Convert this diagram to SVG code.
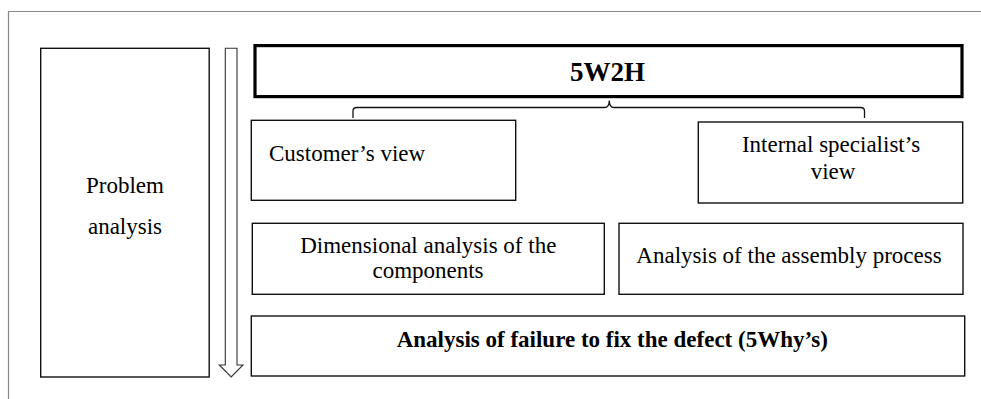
<svg xmlns="http://www.w3.org/2000/svg" width="981" height="399" viewBox="0 0 981 399">
<style>
.box{fill:#fff;stroke:#111;stroke-width:1.4}
.thick{fill:#fff;stroke:#000;stroke-width:3.2}
.t{font-family:"Liberation Serif","Times New Roman",serif;font-size:23px;fill:#000}
.c{text-anchor:middle}
.b{font-weight:bold}
.frame{fill:none;stroke:#888;stroke-width:1.2}
.conn{fill:none;stroke:#111;stroke-width:1.3}
</style>
<rect width="981" height="399" fill="#fff"/>
<path class="frame" d="M8.5,399 V11.5 H981"/>
<g id="problem-analysis">
<rect class="box" x="40.7" y="48.3" width="168.5" height="328.7"/>
<text class="t c" x="125" y="193">Problem</text>
<text class="t c" x="125" y="234">analysis</text>
</g>
<g id="connectors">
<path class="conn" style="stroke:#333;stroke-width:1.1" d="M225.3,48.3 H237 V365 H243 L231.2,377 L219.3,365 H225.3 Z"/>
<path class="conn" d="M353,118 V111 Q353,107.5 357,107.5 H604.5 Q609.3,107.5 609.3,100.5 Q609.3,107.5 614,107.5 H860.5 Q864.5,107.5 864.5,111 V118"/>
</g>
<g id="n5w2h">
<rect class="thick" x="255" y="45.6" width="707" height="51"/>
<text class="t c b" style="font-size:27px" x="607.5" y="80.5">5W2H</text>
</g>
<g id="customers-view">
<rect class="box" x="251.3" y="120.3" width="264.4" height="80"/>
<text class="t" x="269" y="161">Customer’s view</text>
</g>
<g id="internal-specialists-view">
<rect class="box" x="698.3" y="122" width="264.4" height="81"/>
<text class="t c" x="831" y="152.3">Internal specialist’s</text>
<text class="t c" x="833" y="179">view</text>
</g>
<g id="dimensional-analysis">
<rect class="box" x="252.3" y="223.3" width="352" height="71"/>
<text class="t c" x="428.3" y="253.3">Dimensional analysis of the</text>
<text class="t c" x="428" y="278.3">components</text>
</g>
<g id="assembly-process">
<rect class="box" x="619" y="223.3" width="344" height="71"/>
<text class="t c" x="789" y="263.3">Analysis of the assembly process</text>
</g>
<g id="failure-analysis">
<rect class="box" x="251.3" y="316" width="713.4" height="60"/>
<text class="t c b" x="612.3" y="347.3">Analysis of failure to fix the defect (5Why’s)</text>
</g>
</svg>
